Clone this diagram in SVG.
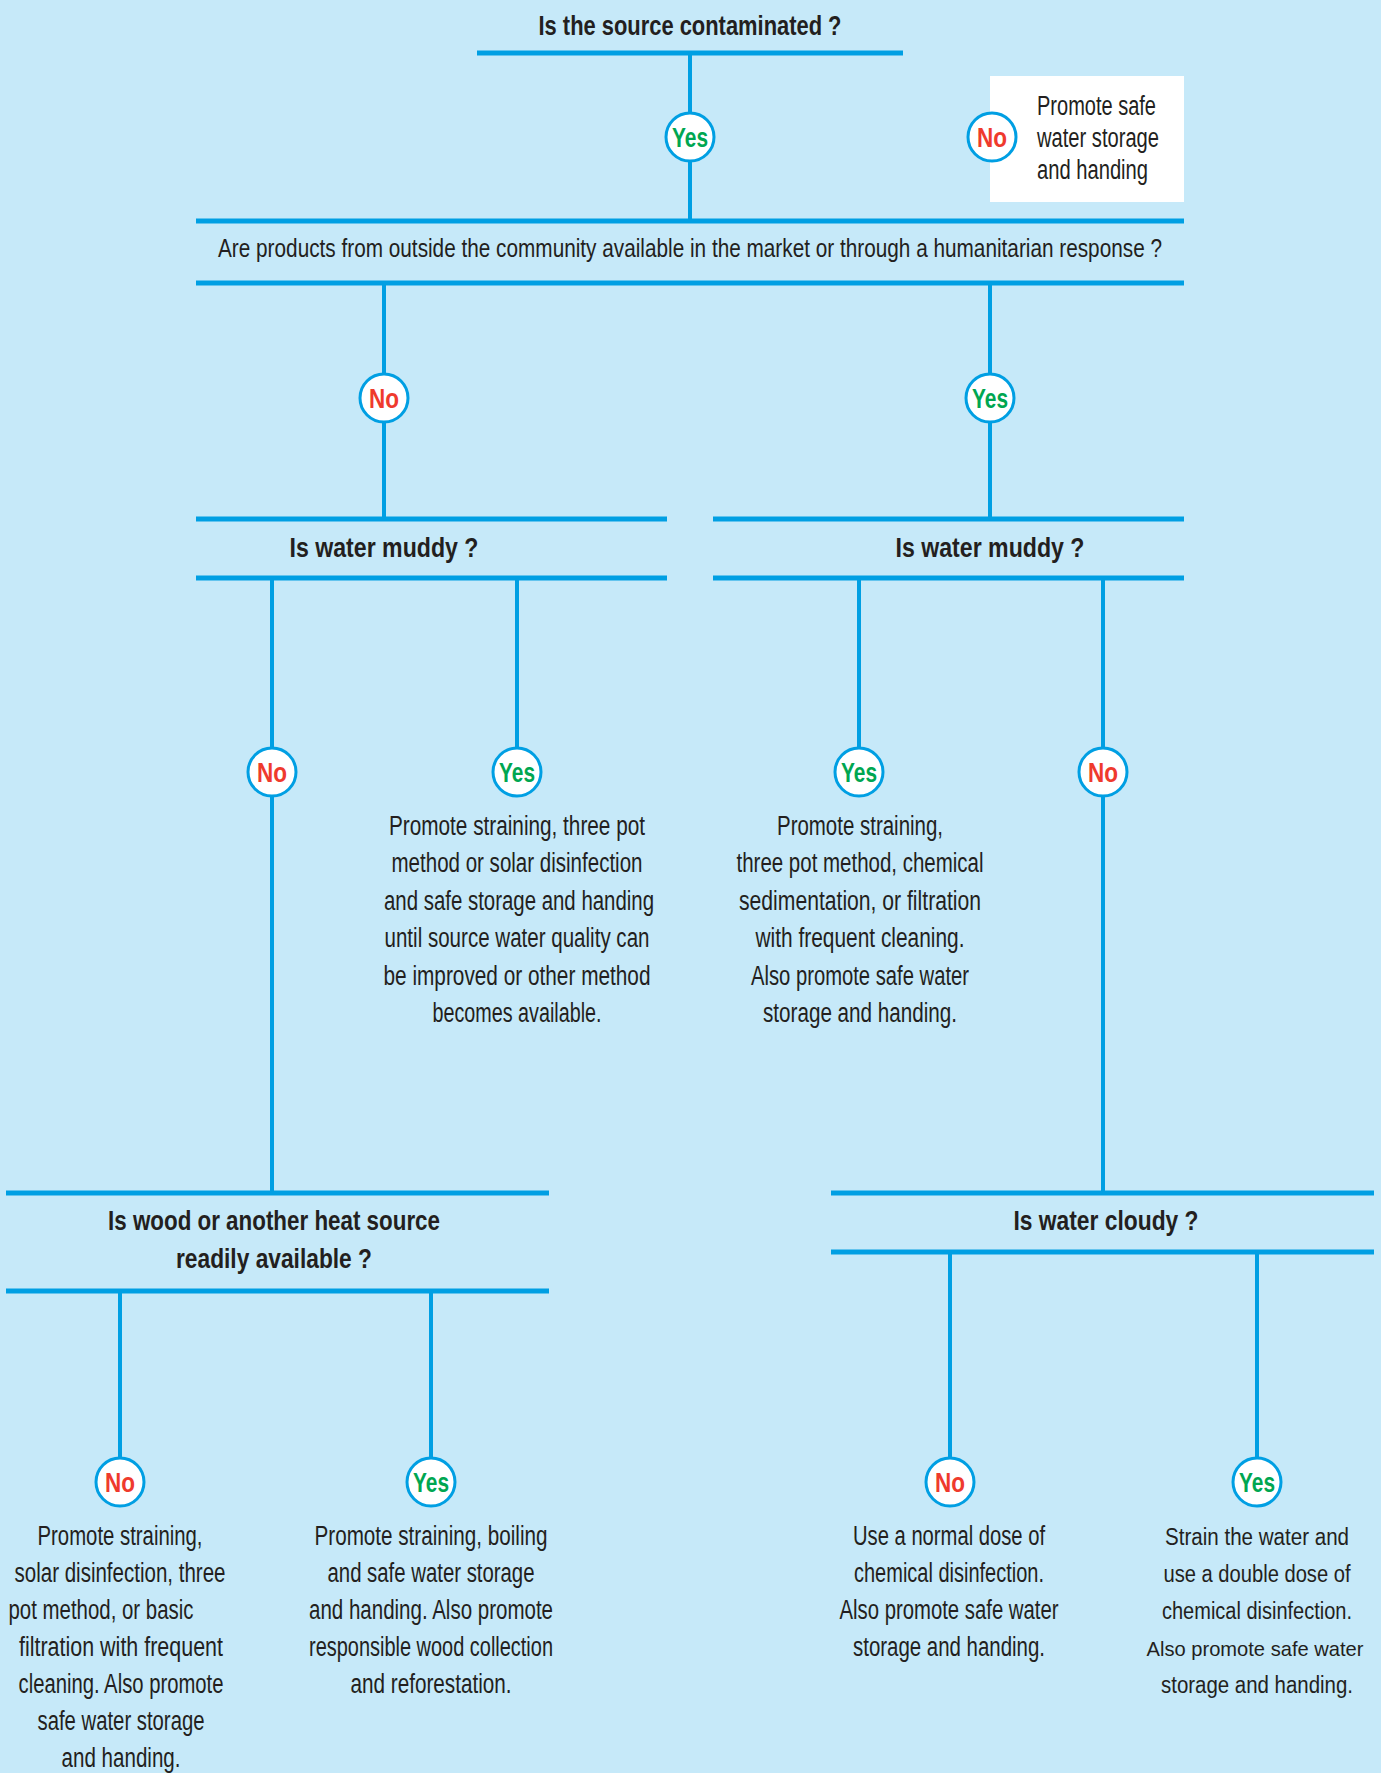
<svg xmlns="http://www.w3.org/2000/svg" width="1381" height="1773" viewBox="0 0 1381 1773">
<style>
.bar{stroke:#009FE3;stroke-width:5;fill:none}
.vl{stroke:#009FE3;stroke-width:4;fill:none}
.c{fill:#fff;stroke:#009FE3;stroke-width:3}
.q{font-family:"Liberation Sans",Arial,sans-serif;font-weight:bold;font-size:28px;fill:#231F20;text-anchor:middle}
.r{font-family:"Liberation Sans",Arial,sans-serif;font-size:27px;fill:#231F20;text-anchor:middle}
.rl{font-family:"Liberation Sans",Arial,sans-serif;font-size:27px;fill:#231F20}
.rs{font-family:"Liberation Sans",Arial,sans-serif;font-size:23px;fill:#231F20;text-anchor:middle}
.yes{font-family:"Liberation Sans",Arial,sans-serif;font-weight:bold;font-size:28px;fill:#00A651;text-anchor:middle}
.no{font-family:"Liberation Sans",Arial,sans-serif;font-weight:bold;font-size:28px;fill:#EF3A2D;text-anchor:middle}
</style>
<rect x="0" y="0" width="1381" height="1773" fill="#C6E9F9"/>

<g id="connectors">
<line class="vl" x1="690" y1="53" x2="690" y2="221"/>
<line class="vl" x1="384" y1="283" x2="384" y2="519"/>
<line class="vl" x1="990" y1="283" x2="990" y2="519"/>
<line class="vl" x1="272" y1="578" x2="272" y2="1193"/>
<line class="vl" x1="517" y1="578" x2="517" y2="750"/>
<line class="vl" x1="859" y1="578" x2="859" y2="750"/>
<line class="vl" x1="1103" y1="578" x2="1103" y2="1193"/>
<line class="vl" x1="120" y1="1291" x2="120" y2="1460"/>
<line class="vl" x1="431" y1="1291" x2="431" y2="1460"/>
<line class="vl" x1="950" y1="1252" x2="950" y2="1460"/>
<line class="vl" x1="1257" y1="1252" x2="1257" y2="1460"/>
</g>

<g id="q-contaminated">
<text class="q" x="690" y="35" textLength="303" lengthAdjust="spacingAndGlyphs">Is the source contaminated ?</text>
<line class="bar" x1="477" y1="53" x2="903" y2="53"/>
</g>

<g id="r-safe-storage">
<rect x="990" y="76" width="194" height="126" fill="#fff"/>
<text class="rl" x="1037" y="115" textLength="119" lengthAdjust="spacingAndGlyphs">Promote safe</text>
<text class="rl" x="1037" y="147" textLength="122" lengthAdjust="spacingAndGlyphs">water storage</text>
<text class="rl" x="1037" y="179" textLength="111" lengthAdjust="spacingAndGlyphs">and handing</text>
</g>

<g id="q-products">
<line class="bar" x1="196" y1="221" x2="1184" y2="221"/>
<text class="r" style="font-size:25px" x="690" y="257" textLength="944" lengthAdjust="spacingAndGlyphs">Are products from outside the community available in the market or through a humanitarian response ?</text>
<line class="bar" x1="196" y1="283" x2="1184" y2="283"/>
</g>

<g id="q-muddy-left">
<line class="bar" x1="196" y1="519" x2="667" y2="519"/>
<text class="q" x="384" y="557" textLength="189" lengthAdjust="spacingAndGlyphs">Is water muddy ?</text>
<line class="bar" x1="196" y1="578" x2="667" y2="578"/>
</g>

<g id="q-muddy-right">
<line class="bar" x1="713" y1="519" x2="1184" y2="519"/>
<text class="q" x="990" y="557" textLength="189" lengthAdjust="spacingAndGlyphs">Is water muddy ?</text>
<line class="bar" x1="713" y1="578" x2="1184" y2="578"/>
</g>

<g id="q-wood">
<line class="bar" x1="6" y1="1193" x2="549" y2="1193"/>
<text class="q" x="274" y="1230" textLength="332" lengthAdjust="spacingAndGlyphs">Is wood or another heat source</text>
<text class="q" x="274" y="1268" textLength="196" lengthAdjust="spacingAndGlyphs">readily available ?</text>
<line class="bar" x1="6" y1="1291" x2="549" y2="1291"/>
</g>

<g id="q-cloudy">
<line class="bar" x1="831" y1="1193" x2="1374" y2="1193"/>
<text class="q" x="1106" y="1230" textLength="185" lengthAdjust="spacingAndGlyphs">Is water cloudy ?</text>
<line class="bar" x1="831" y1="1252" x2="1374" y2="1252"/>
</g>

<g id="r-muddy-yes-left">
<text class="r" x="517" y="835" textLength="256" lengthAdjust="spacingAndGlyphs">Promote straining, three pot</text>
<text class="r" x="517" y="872" textLength="251" lengthAdjust="spacingAndGlyphs">method or solar disinfection</text>
<text class="r" x="519" y="910" textLength="270" lengthAdjust="spacingAndGlyphs">and safe storage and handing</text>
<text class="r" x="517" y="947" textLength="265" lengthAdjust="spacingAndGlyphs">until source water quality can</text>
<text class="r" x="517" y="985" textLength="267" lengthAdjust="spacingAndGlyphs">be improved or other method</text>
<text class="r" x="517" y="1022" textLength="169" lengthAdjust="spacingAndGlyphs">becomes available.</text>
</g>

<g id="r-muddy-yes-right">
<text class="r" x="860" y="835" textLength="166" lengthAdjust="spacingAndGlyphs">Promote straining,</text>
<text class="r" x="860" y="872" textLength="247" lengthAdjust="spacingAndGlyphs">three pot method, chemical</text>
<text class="r" x="860" y="910" textLength="242" lengthAdjust="spacingAndGlyphs">sedimentation, or filtration</text>
<text class="r" x="860" y="947" textLength="209" lengthAdjust="spacingAndGlyphs">with frequent cleaning.</text>
<text class="r" x="860" y="985" textLength="218" lengthAdjust="spacingAndGlyphs">Also promote safe water</text>
<text class="r" x="860" y="1022" textLength="194" lengthAdjust="spacingAndGlyphs">storage and handing.</text>
</g>

<g id="r-wood-no">
<text class="r" x="120" y="1545" textLength="165" lengthAdjust="spacingAndGlyphs">Promote straining,</text>
<text class="r" x="120" y="1582" textLength="211" lengthAdjust="spacingAndGlyphs">solar disinfection, three</text>
<text class="r" x="101" y="1619" textLength="185" lengthAdjust="spacingAndGlyphs">pot method, or basic</text>
<text class="r" x="121" y="1656" textLength="204" lengthAdjust="spacingAndGlyphs">filtration with frequent</text>
<text class="r" x="121" y="1693" textLength="205" lengthAdjust="spacingAndGlyphs">cleaning. Also promote</text>
<text class="r" x="121" y="1730" textLength="167" lengthAdjust="spacingAndGlyphs">safe water storage</text>
<text class="r" x="121" y="1767" textLength="119" lengthAdjust="spacingAndGlyphs">and handing.</text>
</g>

<g id="r-wood-yes">
<text class="r" x="431" y="1545" textLength="233" lengthAdjust="spacingAndGlyphs">Promote straining, boiling</text>
<text class="r" x="431" y="1582" textLength="207" lengthAdjust="spacingAndGlyphs">and safe water storage</text>
<text class="r" x="431" y="1619" textLength="244" lengthAdjust="spacingAndGlyphs">and handing. Also promote</text>
<text class="r" x="431" y="1656" textLength="244" lengthAdjust="spacingAndGlyphs">responsible wood collection</text>
<text class="r" x="431" y="1693" textLength="161" lengthAdjust="spacingAndGlyphs">and reforestation.</text>
</g>

<g id="r-cloudy-no">
<text class="r" x="949" y="1545" textLength="192" lengthAdjust="spacingAndGlyphs">Use a normal dose of</text>
<text class="r" x="949" y="1582" textLength="190" lengthAdjust="spacingAndGlyphs">chemical disinfection.</text>
<text class="r" x="949" y="1619" textLength="219" lengthAdjust="spacingAndGlyphs">Also promote safe water</text>
<text class="r" x="949" y="1656" textLength="192" lengthAdjust="spacingAndGlyphs">storage and handing.</text>
</g>

<g id="r-cloudy-yes">
<text class="rs" x="1257" y="1545" textLength="184" lengthAdjust="spacingAndGlyphs">Strain the water and</text>
<text class="rs" x="1257" y="1582" textLength="187" lengthAdjust="spacingAndGlyphs">use a double dose of</text>
<text class="rs" x="1257" y="1619" textLength="190" lengthAdjust="spacingAndGlyphs">chemical disinfection.</text>
<text class="rs" style="font-size:21px" x="1255" y="1656" textLength="217" lengthAdjust="spacingAndGlyphs">Also promote safe water</text>
<text class="rs" x="1257" y="1693" textLength="192" lengthAdjust="spacingAndGlyphs">storage and handing.</text>
</g>

<g id="a-top-yes"><circle class="c" cx="690" cy="137" r="24"/><text class="yes" x="690" y="147" textLength="36" lengthAdjust="spacingAndGlyphs">Yes</text></g>
<g id="a-top-no"><circle class="c" cx="992" cy="137" r="24"/><text class="no" x="992" y="147" textLength="30" lengthAdjust="spacingAndGlyphs">No</text></g>
<g id="a-products-no"><circle class="c" cx="384" cy="398" r="24"/><text class="no" x="384" y="408" textLength="30" lengthAdjust="spacingAndGlyphs">No</text></g>
<g id="a-products-yes"><circle class="c" cx="990" cy="398" r="24"/><text class="yes" x="990" y="408" textLength="36" lengthAdjust="spacingAndGlyphs">Yes</text></g>
<g id="a-muddyl-no"><circle class="c" cx="272" cy="772" r="24"/><text class="no" x="272" y="782" textLength="30" lengthAdjust="spacingAndGlyphs">No</text></g>
<g id="a-muddyl-yes"><circle class="c" cx="517" cy="772" r="24"/><text class="yes" x="517" y="782" textLength="36" lengthAdjust="spacingAndGlyphs">Yes</text></g>
<g id="a-muddyr-yes"><circle class="c" cx="859" cy="772" r="24"/><text class="yes" x="859" y="782" textLength="36" lengthAdjust="spacingAndGlyphs">Yes</text></g>
<g id="a-muddyr-no"><circle class="c" cx="1103" cy="772" r="24"/><text class="no" x="1103" y="782" textLength="30" lengthAdjust="spacingAndGlyphs">No</text></g>
<g id="a-wood-no"><circle class="c" cx="120" cy="1482" r="24"/><text class="no" x="120" y="1492" textLength="30" lengthAdjust="spacingAndGlyphs">No</text></g>
<g id="a-wood-yes"><circle class="c" cx="431" cy="1482" r="24"/><text class="yes" x="431" y="1492" textLength="36" lengthAdjust="spacingAndGlyphs">Yes</text></g>
<g id="a-cloudy-no"><circle class="c" cx="950" cy="1482" r="24"/><text class="no" x="950" y="1492" textLength="30" lengthAdjust="spacingAndGlyphs">No</text></g>
<g id="a-cloudy-yes"><circle class="c" cx="1257" cy="1482" r="24"/><text class="yes" x="1257" y="1492" textLength="36" lengthAdjust="spacingAndGlyphs">Yes</text></g>
</svg>
